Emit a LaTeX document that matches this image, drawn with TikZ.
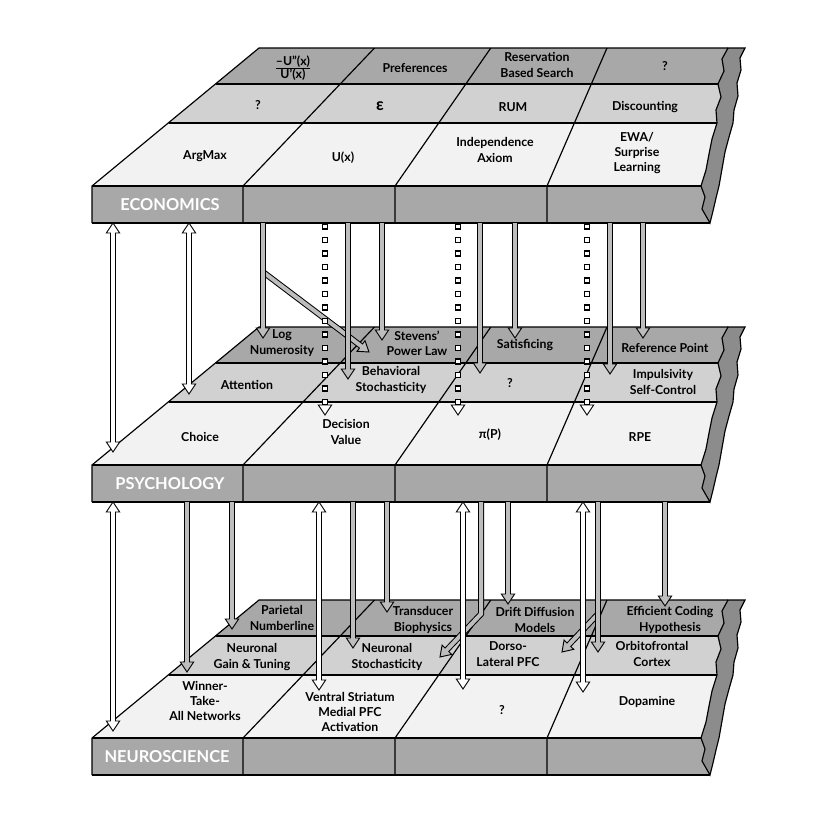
\documentclass[tikz,border=0pt]{standalone}
\usepackage{fontspec}
\setmainfont{Lato}
\usetikzlibrary{calc}

\definecolor{backrow}{gray}{0.66}
\definecolor{midrow}{gray}{0.82}
\definecolor{frontrow}{gray}{0.95}
\definecolor{slabside}{gray}{0.66}
\definecolor{torn}{gray}{0.55}
\definecolor{arrowfill}{gray}{0.74}

% torn right end of a slab
\newcommand{\tornin}{(728,0) -- (722,11) -- (724,23) -- (718,36) -- (721,49) -- (716,62) -- (717,75) -- (712,91) -- (709,106) -- (706,122) -- (701,138) -- (705,149) -- (702,161) -- (710,175)}
\newcommand{\tornout}{(710,175) -- (713,163) -- (716,150) -- (719,138) -- (722,121) -- (725,104) -- (729,89) -- (733,75) -- (734,62) -- (738,48) -- (737,35) -- (741,22) -- (740,10) -- (745,0)}

\newcommand{\drawslab}[1]{%
  \begin{scope}[shift={(0,#1)}]
    \begin{scope}
      \clip (259,0) -- \tornin -- (92,175) -- (92,138) -- cycle;
      \fill[backrow] (259,0) -- (760,0) -- (760,36) -- (215.6,36) -- cycle;
      \fill[midrow] (215.6,36) -- (760,36) -- (760,75) -- (168.8,75) -- cycle;
      \fill[frontrow] (168.8,75) -- (760,75) -- (760,138) -- (92,138) -- cycle;
      \fill[slabside] (92,138) rectangle (760,175);
      \draw (215.6,36) -- (760,36) (168.8,75) -- (760,75) (92,138) -- (760,138);
      \draw (243,175) -- (243,138) -- (374.5,0) (395,175) -- (395,138) -- (490.8,0) (547,175) -- (547,138) -- (607,0);
    \end{scope}
    \filldraw[fill=torn] \tornin -- \tornout -- cycle;
    \draw (92,175) -- (92,138) -- (259,0) -- (728,0);
    \draw (92,175) -- (710,175);
  \end{scope}}

% gray arrow: shaft points, last point before tip, tip
\newcommand{\grayarrow}[3]{%
  \coordinate (hb) at ($(#3)!0.3cm!(#2)$);
  \filldraw[fill=arrowfill, line width=0.8pt] ($(hb)!0.2cm!90:(#3)$) -- (#3) -- ($(hb)!0.2cm!-90:(#3)$) -- cycle;
  \draw[line width=0.18cm] #1 -- (hb);
  \draw[arrowfill, line width=0.12cm] #1 -- ($(hb)!0.05cm!(#3)$);}

% hollow arrow with two heads
\newcommand{\hollowarrow}[2]{%
  \coordinate (ha) at ($(#1)!0.3cm!(#2)$);
  \coordinate (hb) at ($(#2)!0.3cm!(#1)$);
  \filldraw[fill=white, line width=0.8pt] ($(ha)!0.2cm!90:(#1)$) -- (#1) -- ($(ha)!0.2cm!-90:(#1)$) -- cycle;
  \filldraw[fill=white, line width=0.8pt] ($(hb)!0.2cm!90:(#2)$) -- (#2) -- ($(hb)!0.2cm!-90:(#2)$) -- cycle;
  \draw[line width=0.18cm] (ha) -- (hb);
  \draw[white, line width=0.12cm] ($(ha)!-0.05cm!(hb)$) -- ($(hb)!-0.05cm!(ha)$);}

% chain of squares with an open head
\newcommand{\dotarrow}[2]{%
  \coordinate (hb) at ($(#2)!0.3cm!(#1)$);
  \filldraw[fill=white, line width=0.8pt] ($(hb)!0.2cm!90:(#2)$) -- (#2) -- ($(hb)!0.2cm!-90:(#2)$) -- cycle;
  \draw[line width=0.2cm, dash pattern=on 0.2cm off 0.205cm] (#1) -- (hb);
  \draw[white, line width=0.1cm, dash pattern=on 0.1cm off 0.305cm, dash phase=0.355cm] (#1) -- (hb);}

\begin{document}
\begin{tikzpicture}[x=0.03cm, y=-0.03cm, line width=1pt,
    lbl/.style={font=\bfseries\fontsize{10.5}{13}\selectfont, align=center, inner sep=0pt},
    level/.style={font=\bfseries\fontsize{14}{16}\selectfont, text=white, inner sep=0pt}]
    \useasboundingbox (0,0) rectangle (828,828);

    % economics
    \drawslab{48}
    \node[lbl] (riskav) at (293,68) {$\frac{\mbox{--U''(x)}}{\mbox{U'(x)}}$};
    \node[lbl] (prefs) at (415,68) {Preferences};
    \node[lbl] (search) at (537,65) {Reservation\\Based Search};
    \node[lbl] (eunk) at (665,66) {?};
    \node[lbl] (eunkb) at (258,105) {?};
    \node[lbl] (eps) at (380,106) {\Large ε};
    \node[lbl] (rum) at (513,107) {RUM};
    \node[lbl] (discount) at (645,107) {Discounting};
    \node[lbl] (argmax) at (205,156) {ArgMax};
    \node[lbl] (utility) at (343,158) {U(x)};
    \node[lbl] (indep) at (495,150) {Independence\\Axiom};
    \node[lbl] (ewa) at (637,153) {EWA/\\Surprise\\Learning};
    \node[level] (econ) at (170,205) {ECONOMICS};

    % psychology
    \drawslab{327}
    \node[lbl] (lognum) at (282,343) {Log\\Numerosity};
    \node[lbl] (stevens) at (417,343) {Stevens'\\Power Law};
    \node[lbl] (satis) at (525,345) {Satisficing};
    \node[lbl] (refpt) at (665,348) {Reference Point};
    \node[lbl] (attn) at (247,385) {Attention};
    \node[lbl] (bstoch) at (391,380) {Behavioral\\Stochasticity};
    \node[lbl] (punk) at (510,383) {?};
    \node[lbl] (impuls) at (663,382) {Impulsivity\\Self-Control};
    \node[lbl] (choice) at (200,437) {Choice};
    \node[lbl] (decval) at (346,432) {Decision\\Value};
    \node[lbl] (probw) at (490,435) {π(P)};
    \node[lbl] (rpe) at (640,437) {RPE};
    \node[level] (psych) at (170,484) {PSYCHOLOGY};

    \coordinate (ec1) at (113,223); \coordinate (ps1) at (113,452);
    \coordinate (ec2) at (189,223); \coordinate (ps2) at (189,394);
    \coordinate (ec3) at (263,223); \coordinate (ps3) at (263,338);
    \coordinate (ec3b) at (263,272); \coordinate (ps3b) at (369,352);
    \coordinate (ec4) at (325,223); \coordinate (ps4) at (325,415);
    \coordinate (ec5) at (348,223); \coordinate (ps5) at (348,379);
    \coordinate (ec6) at (382,223); \coordinate (ps6) at (382,340);
    \coordinate (ec7) at (458,223); \coordinate (ps7) at (458,415);
    \coordinate (ec8) at (480,223); \coordinate (ps8) at (480,373);
    \coordinate (ec9) at (515,223); \coordinate (ps9) at (515,338);
    \coordinate (ec10) at (587,223); \coordinate (ps10) at (587,415);
    \coordinate (ec11) at (610,223); \coordinate (ps11) at (610,374);
    \coordinate (ec12) at (643,223); \coordinate (ps12) at (643,338);

    \grayarrow{(ec3b)}{ec3b}{ps3b}
    \grayarrow{(ec3)}{ec3}{ps3}
    \dotarrow{ec4}{ps4}
    \grayarrow{(ec5)}{ec5}{ps5}
    \grayarrow{(ec6)}{ec6}{ps6}
    \dotarrow{ec7}{ps7}
    \grayarrow{(ec8)}{ec8}{ps8}
    \grayarrow{(ec9)}{ec9}{ps9}
    \dotarrow{ec10}{ps10}
    \grayarrow{(ec11)}{ec11}{ps11}
    \grayarrow{(ec12)}{ec12}{ps12}
    \hollowarrow{ec1}{ps1}
    \hollowarrow{ec2}{ps2}

    % neuroscience
    \drawslab{600}
    \node[lbl] (parietal) at (282,618) {Parietal\\Numberline};
    \node[lbl] (transd) at (423,620) {Transducer\\Biophysics};
    \node[lbl] (drift) at (535,620) {Drift Diffusion\\Models};
    \node[lbl] (effcode) at (670,620) {Efficient Coding\\Hypothesis};
    \node[lbl] (gain) at (252,657) {Neuronal\\Gain \& Tuning};
    \node[lbl] (nstoch) at (387,657) {Neuronal\\Stochasticity};
    \node[lbl] (dlpfc) at (508,654) {Dorso-\\Lateral PFC};
    \node[lbl] (ofc) at (652,654) {Orbitofrontal\\Cortex};
    \node[lbl] (wta) at (205,701) {Winner-\\Take-\\All Networks};
    \node[lbl] (vstr) at (350,712) {Ventral Striatum\\Medial PFC\\Activation};
    \node[lbl] (nunk) at (502,710) {?};
    \node[lbl] (dopa) at (647,702) {Dopamine};
    \node[level] (neuro) at (167,757) {NEUROSCIENCE};

    \coordinate (pb1) at (113,502); \coordinate (ne1) at (113,731);
    \coordinate (pb2) at (187,502); \coordinate (ne2) at (187,672);
    \coordinate (pb3) at (232,502); \coordinate (ne3) at (232,629);
    \coordinate (pb4) at (319,502); \coordinate (ne4) at (319,690);
    \coordinate (pb5) at (353,502); \coordinate (ne5) at (353,648);
    \coordinate (pb6) at (387,502); \coordinate (ne6) at (387,612);
    \coordinate (pb7) at (463,502); \coordinate (ne7) at (463,689);
    \coordinate (pb8) at (481,502); \coordinate (bend8) at (481,614); \coordinate (ne8) at (440,657);
    \coordinate (pb9) at (508,502); \coordinate (ne9) at (508,604);
    \coordinate (pb10) at (583,502); \coordinate (ne10) at (583,692);
    \coordinate (pb11) at (598,502); \coordinate (ne11) at (598,652);
    \coordinate (pb11b) at (598,614); \coordinate (ne11b) at (562,652);
    \coordinate (pb12) at (665,502); \coordinate (ne12) at (665,606);

    \grayarrow{(pb2)}{pb2}{ne2}
    \grayarrow{(pb3)}{pb3}{ne3}
    \grayarrow{(pb5)}{pb5}{ne5}
    \grayarrow{(pb6)}{pb6}{ne6}
    \grayarrow{(pb8) -- (bend8)}{bend8}{ne8}
    \grayarrow{(pb9)}{pb9}{ne9}
    \grayarrow{(pb11b)}{pb11b}{ne11b}
    \grayarrow{(pb11)}{pb11}{ne11}
    \grayarrow{(pb12)}{pb12}{ne12}
    \hollowarrow{pb1}{ne1}
    \hollowarrow{pb4}{ne4}
    \hollowarrow{pb7}{ne7}
    \hollowarrow{pb10}{ne10}
\end{tikzpicture}
\end{document}
